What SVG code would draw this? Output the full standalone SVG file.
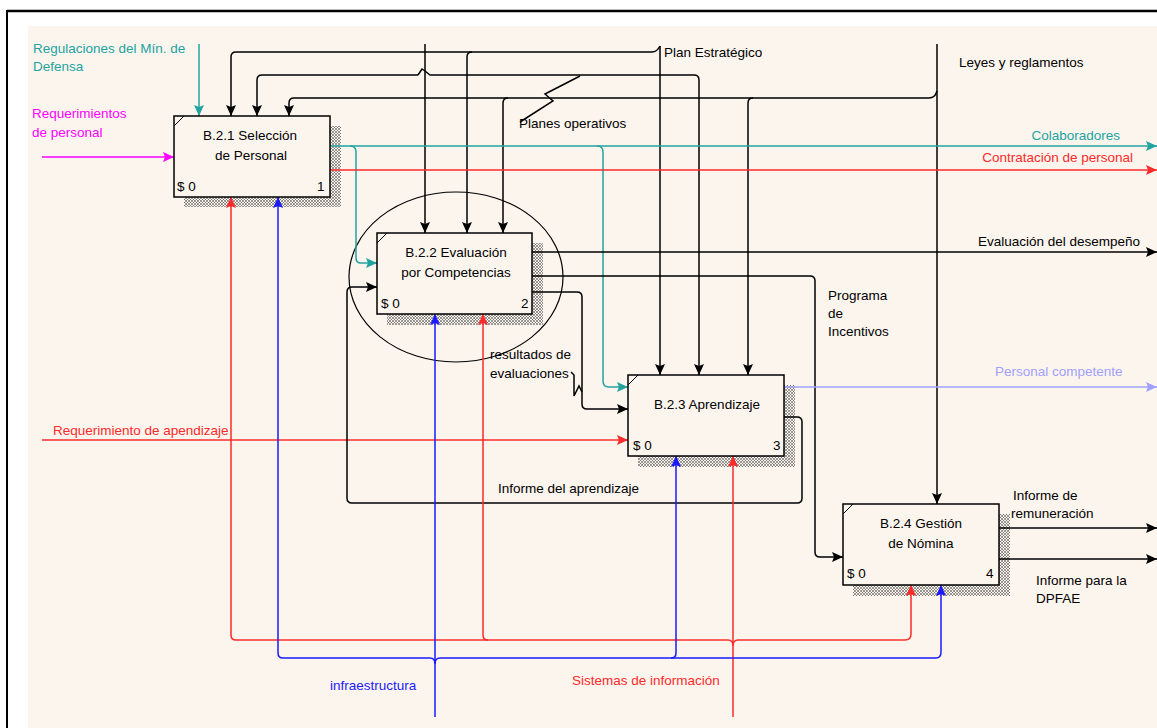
<svg xmlns="http://www.w3.org/2000/svg" width="1157" height="728" viewBox="0 0 1157 728">
<style>
text{font-family:"Liberation Sans",Arial,sans-serif;font-size:13.5px;fill:#000}
.box{fill:#fcf5ee;stroke:#000;stroke-width:1.5}
.sh{fill:url(#hatch)}
.c{fill:none;stroke-width:1.5}
.k{stroke:#000}.t{stroke:#22a39f}.r{stroke:#ff2a2a}.b{stroke:#1a1aff}.m{stroke:#ff00ff}.lb{stroke:#a0a0ff}
.tt{fill:#22a39f}.rt{fill:#ff2a2a}.bt{fill:#1a1aff}.mt{fill:#ff00ff}.lbt{fill:#a0a0ff}
.mid{text-anchor:middle}
</style>
<defs>
<pattern id="hatch" width="3" height="3" patternUnits="userSpaceOnUse">
<rect width="3" height="3" fill="#fcf5ee"/>
<path d="M0,0 L3,3 M3,0 L0,3" stroke="#555" stroke-width="0.6"/>
</pattern>
<marker id="ak" markerUnits="userSpaceOnUse" markerWidth="12" markerHeight="10" refX="11" refY="5" orient="auto"><path d="M0,0 L11,5 L0,10 L2,5 z" fill="#000"/></marker>
<marker id="at" markerUnits="userSpaceOnUse" markerWidth="12" markerHeight="10" refX="11" refY="5" orient="auto"><path d="M0,0 L11,5 L0,10 L2,5 z" fill="#22a39f"/></marker>
<marker id="ar" markerUnits="userSpaceOnUse" markerWidth="12" markerHeight="10" refX="11" refY="5" orient="auto"><path d="M0,0 L11,5 L0,10 L2,5 z" fill="#ff2a2a"/></marker>
<marker id="ab" markerUnits="userSpaceOnUse" markerWidth="12" markerHeight="10" refX="11" refY="5" orient="auto"><path d="M0,0 L11,5 L0,10 L2,5 z" fill="#1a1aff"/></marker>
<marker id="am" markerUnits="userSpaceOnUse" markerWidth="12" markerHeight="10" refX="11" refY="5" orient="auto"><path d="M0,0 L11,5 L0,10 L2,5 z" fill="#ff00ff"/></marker>
<marker id="alb" markerUnits="userSpaceOnUse" markerWidth="12" markerHeight="10" refX="11" refY="5" orient="auto"><path d="M0,0 L11,5 L0,10 L2,5 z" fill="#a0a0ff"/></marker>
</defs>
<rect width="1157" height="728" fill="#fff"/>
<rect x="28" y="26" width="1129" height="702" fill="#fcf5ee"/>
<path d="M7,11 H1157" stroke="#000" stroke-width="2.5"/>
<path d="M7,10 V728" stroke="#000" stroke-width="2"/>

<g id="shadows">
<rect class="sh" x="330" y="126" width="11" height="81"/><rect class="sh" x="184" y="197" width="157" height="10"/>
<rect class="sh" x="532" y="243" width="11" height="82"/><rect class="sh" x="387" y="314" width="156" height="11"/>
<rect class="sh" x="784" y="385" width="11" height="82"/><rect class="sh" x="638" y="456" width="157" height="11"/>
<rect class="sh" x="999" y="514" width="11" height="82"/><rect class="sh" x="853" y="585" width="157" height="11"/>
</g>

<ellipse id="ellipse" cx="456" cy="277" rx="107" ry="85" fill="none" stroke="#000" stroke-width="1.2"/>

<g id="connectors">
<path class="c t" d="M199,44 V116" marker-end="url(#at)"/>
<path class="c k" d="M660,46 V375" marker-end="url(#ak)"/>
<path class="c k" d="M660,46 Q657,52 652,52 H236 Q231,52 231,57 V116" marker-end="url(#ak)"/>
<path class="c k" d="M472,52 Q467,52 467,57 V233" marker-end="url(#ak)"/>
<path class="c k" d="M425,44 V233" marker-end="url(#ak)"/>
<path class="c k" d="M418,75 H262 Q257,75 257,80 V116" marker-end="url(#ak)"/>
<path class="c k" d="M418,75 L422,69 L425,71 L430,75 H694 Q699,75 699,80 V375" marker-end="url(#ak)"/>
<path class="c k" d="M580,76 L545,94 L553,101 L520,122" stroke-width="1.2"/>
<path class="c k" d="M937,44 V504" marker-end="url(#ak)"/>
<path class="c k" d="M937,91 Q935,98 929,98 H294 Q289,98 289,103 V116" marker-end="url(#ak)"/>
<path class="c k" d="M508,98 Q503,98 503,103 V233" marker-end="url(#ak)"/>
<path class="c k" d="M753,98 Q748,98 748,103 V375" marker-end="url(#ak)"/>
<path class="c m" d="M42,157 H174" marker-end="url(#am)"/>
<path class="c r" d="M42,440 H628" marker-end="url(#ar)"/>
<path class="c t" d="M330,146 H1157" marker-end="url(#at)"/>
<path class="c t" d="M350,146 Q356,146 356,152 V258 Q356,263 361,263 H377" marker-end="url(#at)"/>
<path class="c t" d="M597,146 Q603,146 603,152 V381 Q603,387 609,387 H628" marker-end="url(#at)"/>
<path class="c r" d="M330,170 H1157" marker-end="url(#ar)"/>
<path class="c k" d="M532,252 H1157" marker-end="url(#ak)"/>
<path class="c k" d="M532,276 H810 Q815,276 815,281 V552 Q815,557 820,557 H843" marker-end="url(#ak)"/>
<path class="c k" d="M532,292 H577 Q582,292 582,297 V404 Q582,409 587,409 H628" marker-end="url(#ak)"/>
<path class="c k" d="M571,372 L574,375 V396 L579,386 L582,392" stroke-width="1.2"/>
<path class="c lb" d="M784,387 H1157" marker-end="url(#alb)"/>
<path class="c k" d="M784,417 H797 Q802,417 802,422 V498 Q802,503 797,503 H352 Q347,503 347,498 V292 Q347,287 352,287 H377" marker-end="url(#ak)"/>
<path class="c k" d="M999,528 H1157" marker-end="url(#ak)"/>
<path class="c k" d="M999,559 H1157" marker-end="url(#ak)"/>
<path class="c r" d="M733,717 V456" marker-end="url(#ar)"/>
<path class="c r" d="M728,640 H236 Q231,640 231,635 V197" marker-end="url(#ar)"/>
<path class="c r" d="M738,640 H905 Q911,640 911,634 V585" marker-end="url(#ar)"/>
<path class="c r" d="M488,640 Q483,640 483,635 V314" marker-end="url(#ar)"/>
<path class="c r" d="M728,640 Q733,640 733,646 Q733,640 738,640"/>
<path class="c b" d="M435,717 V314" marker-end="url(#ab)"/>
<path class="c b" d="M430,658 H283 Q278,658 278,653 V197" marker-end="url(#ab)"/>
<path class="c b" d="M440,658 H936 Q941,658 941,652 V585" marker-end="url(#ab)"/>
<path class="c b" d="M671,658 Q676,658 676,653 V456" marker-end="url(#ab)"/>
<path class="c b" d="M430,658 Q435,658 435,664 Q435,658 440,658"/>
</g>

<g id="B21">
<rect class="box" x="174" y="116" width="156" height="81"/>
<path d="M174,126 L184,116" stroke="#000" stroke-width="1"/>
<text class="mid" x="250" y="140">B.2.1 Selección</text>
<text class="mid" x="251" y="160">de Personal</text>
<text x="177" y="191">$ 0</text>
<text x="317" y="191">1</text>
</g>
<g id="B22">
<rect class="box" x="377" y="233" width="155" height="81"/>
<path d="M377,243 L387,233" stroke="#000" stroke-width="1"/>
<text class="mid" x="456" y="257">B.2.2 Evaluación</text>
<text class="mid" x="456" y="277">por Competencias</text>
<text x="381" y="308">$ 0</text>
<text x="521" y="308">2</text>
</g>
<g id="B23">
<rect class="box" x="628" y="375" width="156" height="81"/>
<path d="M628,385 L638,375" stroke="#000" stroke-width="1"/>
<text class="mid" x="707" y="409">B.2.3 Aprendizaje</text>
<text x="633" y="450">$ 0</text>
<text x="773" y="450">3</text>
</g>
<g id="B24">
<rect class="box" x="843" y="504" width="156" height="81"/>
<path d="M843,514 L853,504" stroke="#000" stroke-width="1"/>
<text class="mid" x="921" y="528">B.2.4 Gestión</text>
<text class="mid" x="921" y="548">de Nómina</text>
<text x="847" y="578">$ 0</text>
<text x="986" y="578">4</text>
</g>

<g id="labels">
<text class="tt" x="33" y="53">Regulaciones del Mín. de</text>
<text class="tt" x="33" y="71">Defensa</text>
<text class="mt" x="32" y="118">Requerimientos</text>
<text class="mt" x="32" y="137">de personal</text>
<text x="664" y="57">Plan Estratégico</text>
<text x="959" y="67">Leyes y reglamentos</text>
<text x="519" y="128">Planes operativos</text>
<text class="tt" x="1120" y="140" text-anchor="end">Colaboradores</text>
<text class="rt" x="1133" y="162" text-anchor="end">Contratación de personal</text>
<text x="1140" y="246" text-anchor="end">Evaluación del desempeño</text>
<text x="828" y="300">Programa</text>
<text x="828" y="318">de</text>
<text x="828" y="336">Incentivos</text>
<text x="490" y="359">resultados de</text>
<text x="490" y="378">evaluaciones</text>
<text class="lbt" x="995" y="376">Personal competente</text>
<text class="rt" x="53" y="435">Requerimiento de apendizaje</text>
<text x="498" y="493">Informe del aprendizaje</text>
<text x="1013" y="500">Informe de</text>
<text x="1011" y="518">remuneración</text>
<text x="1036" y="585">Informe para la</text>
<text x="1036" y="603">DPFAE</text>
<text class="bt" x="330" y="690">infraestructura</text>
<text class="rt" x="572" y="685">Sistemas de información</text>
</g>
</svg>
